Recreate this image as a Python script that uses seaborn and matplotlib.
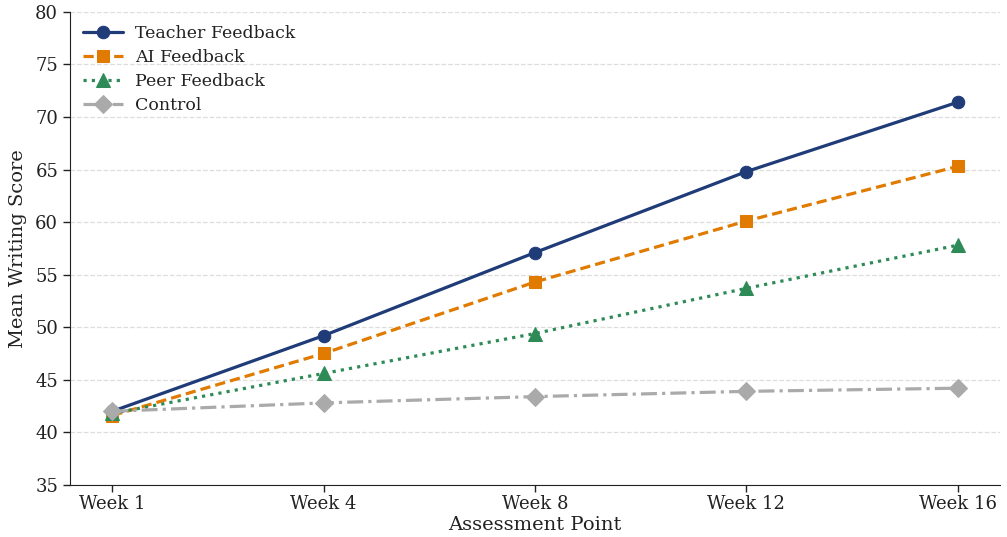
import numpy as np
import pandas as pd
import matplotlib
matplotlib.use('Agg')
import matplotlib.pyplot as plt
import seaborn as sns

# Mean writing scores per group
weeks = ["Week 1", "Week 4", "Week 8", "Week 12", "Week 16"]
teacher = [42.0, 49.2, 57.1, 64.8, 71.4]
ai = [41.6, 47.5, 54.3, 60.1, 65.3]
peer = [41.8, 45.6, 49.4, 53.7, 57.8]
control = [42.0, 42.8, 43.4, 43.9, 44.2]

groups = ["Teacher Feedback", "AI Feedback", "Peer Feedback", "Control"]
scores = [teacher, ai, peer, control]

df = pd.DataFrame({
    "week": weeks * len(groups),
    "score": np.concatenate(scores),
    "group": np.repeat(groups, len(weeks)),
})

sns.set_style("white")
plt.rcParams['font.family'] = ['DejaVu Serif']
plt.rcParams['text.color'] = '#222222'
plt.rcParams['axes.labelcolor'] = '#222222'
plt.rcParams['xtick.color'] = '#222222'
plt.rcParams['ytick.color'] = '#222222'
plt.rcParams['axes.edgecolor'] = '#222222'

colors = {"Teacher Feedback": "#1f3b78", "AI Feedback": "#e07b00",
          "Peer Feedback": "#2e8b57", "Control": "#aaaaaa"}
markers = {"Teacher Feedback": "o", "AI Feedback": "s",
           "Peer Feedback": "^", "Control": "D"}
msizes = {"Teacher Feedback": 9, "AI Feedback": 9,
          "Peer Feedback": 10, "Control": 9}
styles = {"Teacher Feedback": "-", "AI Feedback": (0, (3.2, 1.6)),
          "Peer Feedback": (0, (1, 1.6)), "Control": (0, (5, 1.6, 1, 1.6))}

fig, ax = plt.subplots(figsize=(10.07, 5.37), dpi=100)

for g in groups:
    sub = df[df["group"] == g]
    sns.lineplot(data=sub, x="week", y="score", ax=ax, color=colors[g],
                 marker=markers[g], markersize=msizes[g], linestyle=styles[g],
                 markeredgecolor=colors[g], linewidth=2.3, label=g, sort=False)

ax.set_ylim(35, 80)
ax.set_yticks(np.arange(35, 81, 5))
ax.yaxis.grid(True, linestyle='--', color='#dddddd', linewidth=0.9)
ax.set_axisbelow(True)
ax.set_xlabel("Assessment Point", fontsize=14, labelpad=2)
ax.set_ylabel("Mean Writing Score", fontsize=14, labelpad=6)
ax.tick_params(axis='both', labelsize=13, length=5, width=1, left=True, bottom=True)
ax.tick_params(axis='x', pad=2.5)
sns.despine(ax=ax)
ax.legend(loc='upper left', frameon=False, fontsize=12.5, handlelength=2.3,
          borderaxespad=0.35, labelspacing=0.4, handletextpad=0.7)

fig.subplots_adjust(left=0.0695, right=0.993, top=0.978, bottom=0.097)
plt.savefig("out.png", dpi=100)
plt.close()
